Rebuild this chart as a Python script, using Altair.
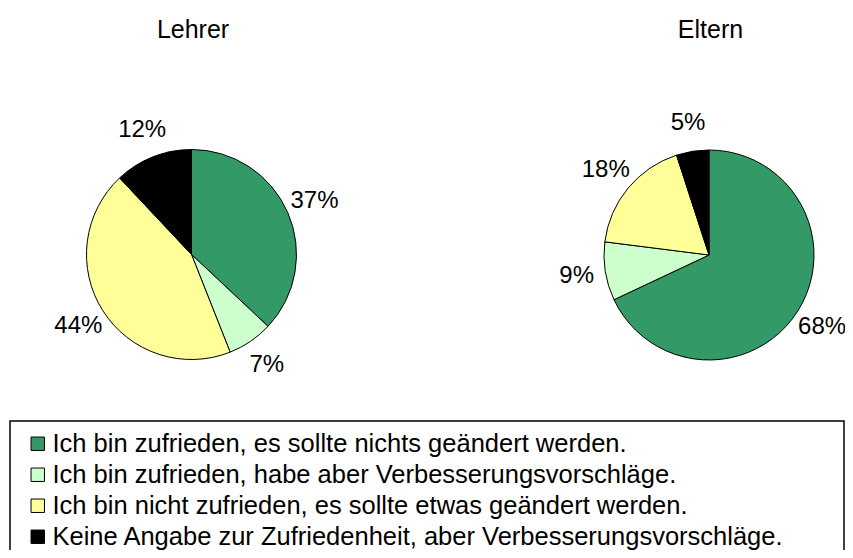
import altair as alt
import pandas as pd

# ---- data ----
categories = [
    "Ich bin zufrieden, es sollte nichts geändert werden.",
    "Ich bin zufrieden, habe aber Verbesserungsvorschläge.",
    "Ich bin nicht zufrieden, es sollte etwas geändert werden.",
    "Keine Angabe zur Zufriedenheit, aber Verbesserungsvorschläge.",
]
colors = ["#339966", "#CCFFCC", "#FFFF99", "#000000"]
groups = ["Lehrer", "Eltern"]
lehrer_values = [37, 7, 44, 12]
eltern_values = [68, 9, 18, 5]

rows = []
for g, vals in zip(groups, [lehrer_values, eltern_values]):
    for i, (c, v) in enumerate(zip(categories, vals)):
        rows.append({"group": g, "category": c, "order": i, "value": v, "label": f"{v}%"})
df = pd.DataFrame(rows)
titles_df = pd.DataFrame({"group": groups})

FONT = "Liberation Sans"
centers = {"Lehrer": (183.5, 246.5), "Eltern": (701, 247)}
R = 105
LR = 134

color = alt.Color(
    "category:N",
    scale=alt.Scale(domain=categories, range=colors),
    sort=categories,
    legend=alt.Legend(
        title=None,
        orient="none",
        legendX=17,
        legendY=423,
        symbolType="square",
        symbolSize=180,
        symbolStrokeColor="black",
        symbolStrokeWidth=1,
        symbolOpacity=1,
        labelFont=FONT,
        labelFontSize=25.5,
        labelColor="black",
        labelLimit=1000,
        labelOffset=2,
        rowPadding=4,
        padding=0,
    ),
)
theta = alt.Theta("value:Q", stack=True, scale=alt.Scale(domain=[0, 100]))

frame = alt.Chart(pd.DataFrame({"f": [0]})).mark_rect(
    fill="white", stroke="black", strokeWidth=1.5
).encode(x=alt.value(2), x2=alt.value(836), y=alt.value(413), y2=alt.value(560))

layers = [frame]
for g in groups:
    cx, cy = centers[g]
    sub = alt.Chart(df).transform_filter(alt.datum.group == g)
    arc = sub.mark_arc(radius=R, stroke="black", strokeWidth=1).encode(
        theta=theta,
        color=color,
        order=alt.Order("order:Q"),
        x=alt.value(cx),
        y=alt.value(cy),
    )
    txt = sub.mark_text(radius=LR, font=FONT, fontSize=24, color="black").encode(
        theta=theta,
        order=alt.Order("order:Q"),
        text="label:N",
        x=alt.value(cx),
        y=alt.value(cy),
    )
    ttl = alt.Chart(titles_df).transform_filter(alt.datum.group == g).mark_text(
        font=FONT, fontSize=25, color="black", baseline="alphabetic"
    ).encode(text="group:N", x=alt.value(cx + 1.5), y=alt.value(30))
    layers += [arc, txt, ttl]

chart = alt.layer(*layers).properties(
    width=837, height=542, autosize=alt.AutoSizeParams(type="none"), padding=0
).configure_view(stroke=None)

chart.save("out.html", embed_options={"renderer": "svg", "actions": False})
